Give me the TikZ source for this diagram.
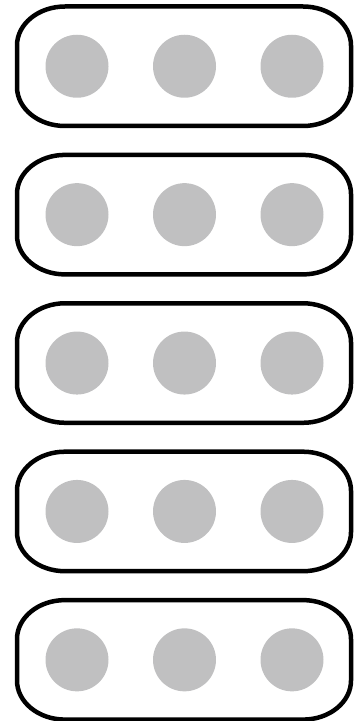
\documentclass[tikz,border=0pt]{standalone}
\definecolor{dotgray}{RGB}{192,192,193}
\begin{document}
\begin{tikzpicture}[x=1pt,y=1pt,
  frame/.style={line width=4.5pt, draw=black, line join=round},
  dot/.style={fill=dotgray, draw=none}]
\useasboundingbox (0,0) rectangle (354,721);
\foreach \i in {0,...,4}{
  \pgfmathsetmacro\T{721-6.5-148.4*\i}
  \pgfmathsetmacro\B{\T-119.5}
  \pgfmathsetmacro\C{\T-59.75}
  \draw[frame] (65,\T) -- (303,\T)
    arc[start angle=90,end angle=0,x radius=48,y radius=39]
    -- (351,\B+39)
    arc[start angle=0,end angle=-90,x radius=48,y radius=39]
    -- (65,\B)
    arc[start angle=270,end angle=180,x radius=48,y radius=39]
    -- (17,\T-39)
    arc[start angle=180,end angle=90,x radius=48,y radius=39]
    -- cycle;
  \fill[dot] (77,\C) circle[radius=31.5];
  \fill[dot] (184.5,\C) circle[radius=31.5];
  \fill[dot] (292,\C) circle[radius=31.5];
}
\end{tikzpicture}
\end{document}
